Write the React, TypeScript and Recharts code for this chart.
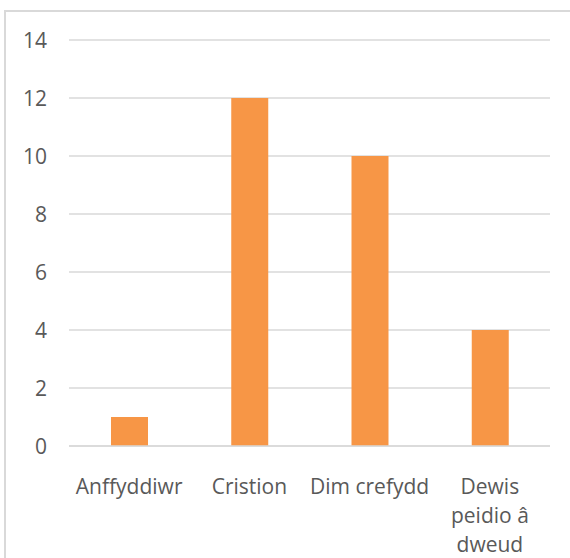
import React from "react";
import { BarChart, Bar, XAxis, YAxis, CartesianGrid } from "recharts";

const categories = ["Anffyddiwr", "Cristion", "Dim crefydd", "Dewis peidio â dweud"];
const counts = [1, 12, 10, 4];
const categoryLines = [["Anffyddiwr"], ["Cristion"], ["Dim crefydd"], ["Dewis", "peidio â", "dweud"]];
const yTicks = [0, 2, 4, 6, 8, 10, 12, 14];

const data = categories.map((c, i) => ({ name: c, value: counts[i] }));

const FONT = "'Open Sans', sans-serif";
const TEXT = "#595959";

const XTick = (props: any) => {
  const { x, y, payload } = props;
  const idx = categories.indexOf(payload.value);
  const lines = idx >= 0 ? categoryLines[idx] : [payload.value];
  return (
    <g transform={`translate(${x},${y})`}>
      {lines.map((l: string, i: number) => (
        <text key={i} x={0} y={40 + i * 29} textAnchor="middle" fill={TEXT} fontSize={21} fontFamily={FONT}>
          {l}
        </text>
      ))}
    </g>
  );
};

const YTick = (props: any) => {
  const { y, payload } = props;
  return (
    <text x={47} y={y} dy={7.5} textAnchor="end" fill={TEXT} fontSize={21} fontFamily={FONT}>
      {payload.value}
    </text>
  );
};

export default function App() {
  return (
    <div style={{ position: "absolute", left: 0, top: 0, width: 570, height: 558, overflow: "hidden", background: "#fff" }}>
      <div
        style={{
          position: "absolute",
          left: 4,
          top: 10,
          width: 620,
          height: 600,
          border: "2px solid #d9d9d9",
          boxSizing: "border-box",
        }}
      />
      <div style={{ position: "absolute", left: 0, top: 0 }}>
        <BarChart width={570} height={558} data={data} margin={{ top: 40, right: 20, bottom: 0, left: 0 }} barSize={37}>
          <CartesianGrid vertical={false} stroke="#d9d9d9" strokeWidth={1.5} />
          <XAxis
            dataKey="name"
            axisLine={{ stroke: "#d9d9d9", strokeWidth: 1.5 }}
            tickLine={false}
            tick={<XTick />}
            interval={0}
            height={112}
          />
          <YAxis
            domain={[0, 14]}
            ticks={yTicks}
            axisLine={false}
            tickLine={false}
            width={69}
            tick={<YTick />}
            interval={0}
          />
          <Bar dataKey="value" fill="#F79646" isAnimationActive={false} />
        </BarChart>
      </div>
    </div>
  );
}
